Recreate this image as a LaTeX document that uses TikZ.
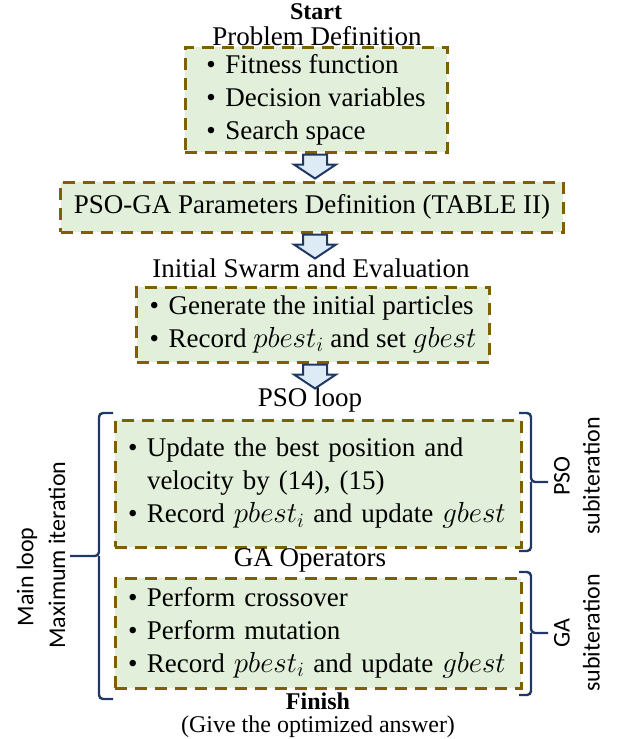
\RequirePackage{fix-cm}
\documentclass[tikz,border=0pt]{standalone}
\usepackage{fontspec}
\setmainfont{Liberation Serif}
\newfontfamily\labelfont{Carlito}
\definecolor{boxfill}{RGB}{226,239,218}
\definecolor{boxline}{RGB}{127,96,0}
\definecolor{arrowfill}{RGB}{221,235,247}
\definecolor{navy}{RGB}{32,56,100}
\newcommand{\bul}{\makebox[19pt][l]{\textbullet}}
\newcommand{\nobul}{\makebox[19pt]{}}
\newcommand{\pbest}{{\fontsize{29}{33}\selectfont$pbest_i$}}
\newcommand{\gbest}{{\fontsize{29}{33}\selectfont$gbest$}}
\tikzset{
  stepbox/.style={draw=boxline, fill=boxfill, line width=3pt, dash pattern=on 12pt off 8pt,
    align=left, inner ysep=0pt, inner xsep=13pt, font=\fontsize{27}{33}\selectfont},
  heading/.style={inner sep=0pt, font=\fontsize{27}{32}\selectfont},
  title/.style={inner sep=0pt, font=\fontsize{24}{28}\selectfont\bfseries},
  flowarrow/.style={draw=navy, fill=arrowfill, line width=2pt, line join=miter},
  bracket/.style={draw=navy, line width=2.4pt, rounded corners=4pt},
  sidelabel/.style={rotate=90, align=center, inner sep=0pt, font=\labelfont\fontsize{24}{30}\selectfont}
}
\begin{document}
\begin{tikzpicture}[x=1pt,y=-1pt]
  \useasboundingbox (0,0) rectangle (622,739);
  \coordinate (axis) at (315,0);
  \node[title] (start) at (316,12) {Start};
  \node[heading] (probhead) at (317,36) {Problem Definition};
  \node[stepbox, minimum width=262, minimum height=105] (prob) at (316,99.5)
    {\bul Fitness function\\ \bul Decision variables\\ \bul Search space};
  \node[stepbox, align=center, minimum width=492, minimum height=50] (param) at (312,207)
    {PSO-GA Parameters Definition (TABLE II)};
  \node[heading] (inithead) at (311,268) {Initial Swarm and Evaluation};
  \node[stepbox, minimum width=350, minimum height=75] (init) at (313,324.5)
    {\bul Generate the initial particles\\ \bul \mbox{Record \pbest{} and set \gbest}};
  \node[heading] (psohead) at (310,400) {PSO loop};
  \node[stepbox, text width=380, minimum height=127] (pso) at (318,483.5)
    {\bul Update the best position and\\ \nobul velocity by (14), (15)\\
     \bul \mbox{Record \pbest{} and update \gbest}};
  \node[heading] (gahead) at (310,560) {GA Operators};
  \node[stepbox, text width=380, minimum height=110] (ga) at (318,633)
    {\bul Perform crossover\\ \bul Perform mutation\\ \bul \mbox{Record \pbest{} and update \gbest}};
  \node[title] (finish) at (318,701) {Finish};
  \node[heading, font=\fontsize{24}{28}\selectfont] (answer) at (318,727) {(Give the optimized answer)};
  \foreach \a in {prob,param,init} {
    \draw[flowarrow] (\a.south -| axis) ++(-12,1) -- ++(0,10) -- ++(-9,0) -- ++(21,14)
      -- ++(21,-14) -- ++(-9,0) -- ++(0,-10) -- cycle;
  }
  \draw[bracket] (113,413) -| (99,556) -- (70,556);
  \draw[bracket] (99,556) |- (113,699);
  \draw[bracket] (519,413) -| (531,482) -- (548,482);
  \draw[bracket] (531,482) |- (519,551);
  \draw[bracket] (519,572) -| (531,633) -- (548,633);
  \draw[bracket] (531,633) |- (519,695);
  \node[sidelabel] (mainloop) at (27,577) {Main loop};
  \node[sidelabel] (maxiter) at (57,555) {Maximum iteration};
  \node[sidelabel] (psosub) at (577,476) {PSO\\subiteration};
  \node[sidelabel] (gasub) at (577,633) {GA\\subiteration};
\end{tikzpicture}
\end{document}
